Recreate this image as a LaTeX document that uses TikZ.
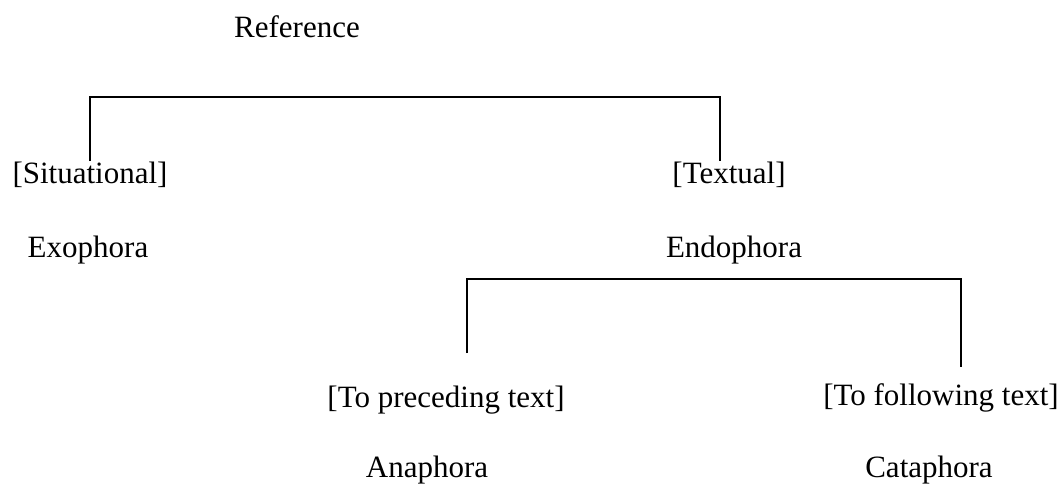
\documentclass[tikz,border=0pt]{standalone}
\usepackage{fontspec}
\setmainfont{Liberation Serif}
\usepackage{tikz}
\usetikzlibrary{positioning}

\begin{document}
\begin{tikzpicture}[x=0.5pt,y=-0.5pt, every node/.style={font=\fontsize{15.5}{18}\selectfont}]
\tikzstyle{word}=[inner sep=0pt, anchor=base]
\tikzstyle{bar}=[line width=0.9pt]
\useasboundingbox (0,0) rectangle (1063,484);
% labels
\node[word] (ref) at (297,37) {Reference};
\node[word] (sit) at (90,183) {[Situational]};
\node[word] (tex) at (729,183) {[Textual]};
\node[word] (exo) at (88,257) {Exophora};
\node[word] (endo) at (734,257) {Endophora};
\node[word] (prec) at (446,407) {[To preceding text]};
\node[word] (foll) at (941,405) {[To following text]};
\node[word] (ana) at (427,477) {Anaphora};
\node[word] (cata) at (929,477) {Cataphora};
% brackets
\coordinate (topl) at (90,97);
\coordinate (topr) at (720,97);
\coordinate (lowl) at (467,279);
\coordinate (lowr) at (961,279);
\coordinate (lowlend) at (467,353);
\coordinate (lowrend) at (961,367);
\draw[bar] (topl |- sit.north) -- (topl) -- (topr) -- (topr |- tex.north);
\draw[bar] (lowlend) -- (lowl) -- (lowr) -- (lowrend);
\end{tikzpicture}
\end{document}
